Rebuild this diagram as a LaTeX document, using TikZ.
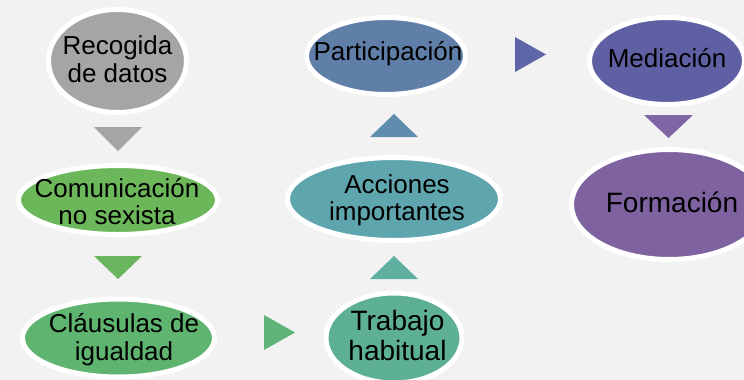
\documentclass[tikz,border=0pt]{standalone}
\usepackage{fontspec}
\setmainfont{Liberation Sans}
\usetikzlibrary{shapes.geometric}
\definecolor{bg}{HTML}{F2F2F2}
\definecolor{cA}{HTML}{A5A5A5}
\definecolor{cB}{HTML}{6DB75B}
\definecolor{cC}{HTML}{5FB46F}
\definecolor{cD}{HTML}{5DB093}
\definecolor{cE}{HTML}{5FA5AD}
\definecolor{cF}{HTML}{5F7EA8}
\definecolor{cG}{HTML}{5F5FA4}
\definecolor{cH}{HTML}{7F62A0}
\definecolor{tA}{HTML}{A5A5A5}
\definecolor{tB}{HTML}{6AB65E}
\definecolor{tC}{HTML}{60B378}
\definecolor{tD}{HTML}{5EAFA0}
\definecolor{tE}{HTML}{5E8DAE}
\definecolor{tF}{HTML}{5F66A8}
\definecolor{tG}{HTML}{7F65A3}
\tikzset{
  oval/.style={ellipse, draw=white, line width=5pt, inner sep=0pt, outer sep=0pt},
  lbl/.style={align=center, anchor=base, inner sep=0pt, font=\fontsize{26}{28}\selectfont},
  lblbig/.style={align=center, anchor=base, inner sep=0pt, font=\fontsize{28}{30}\selectfont},
}
\begin{document}
\begin{tikzpicture}[x=1pt,y=-1pt]
\useasboundingbox (0,0) rectangle (744,380);
\clip (0,0) rectangle (744,380);
\fill[bg] (0,0) rectangle (744,380);
% ovals
\node[oval, fill=cA, minimum width=138pt, minimum height=103pt] (n1) at (117.5,61) {};
\node[oval, fill=cB, minimum width=199pt, minimum height=69pt] (n2) at (118,200) {};
\node[oval, fill=cC, minimum width=192pt, minimum height=78pt] (n3) at (118.5,338) {};
\node[oval, fill=cD, minimum width=136pt, minimum height=90pt] (n4) at (394,338) {};
\node[oval, fill=cE, minimum width=213pt, minimum height=83pt] (n5) at (394,199) {};
\node[oval, fill=cF, minimum width=159pt, minimum height=77pt] (n6) at (386,56) {};
\node[oval, fill=cG, minimum width=155pt, minimum height=87pt] (n7) at (667,61) {};
\node[oval, fill=cH, minimum width=195pt, minimum height=110pt] (n8) at (669,204.5) {};
% labels (anchor base = baseline of last line)
\node[lbl] (l1) at (117.5,82) {Recogida\\de datos};
\node[lbl, font=\fontsize{26}{27}\selectfont] (l2) at (117,224) {Comunicación\\no sexista};
\node[lbl] (l3) at (124,360) {Cláusulas de\\igualdad};
\node[lblbig] (l4) at (397.5,360) {Trabajo\\habitual};
\node[lbl, font=\fontsize{26}{27}\selectfont] (l5) at (397,220) {Acciones\\importantes};
\node[lbl] (l6) at (388,60) {Participación};
\node[lbl] (l7) at (667,67) {Mediación};
\node[lblbig] (l8) at (672,212) {Formación};
% triangles
\fill[tA] (94,127) -- (142,127) -- (118,151) -- cycle;
\fill[tB] (94,256) -- (142,256) -- (118,279) -- cycle;
\fill[tC] (264,315) -- (264,350) -- (295,332.5) -- cycle;
\fill[tD] (370,279) -- (418,279) -- (394,256) -- cycle;
\fill[tE] (370,137) -- (418,137) -- (394,114) -- cycle;
\fill[tF] (515,37) -- (515,72) -- (546,54.5) -- cycle;
\fill[tG] (644,115) -- (693,115) -- (668.5,138) -- cycle;
\end{tikzpicture}
\end{document}
